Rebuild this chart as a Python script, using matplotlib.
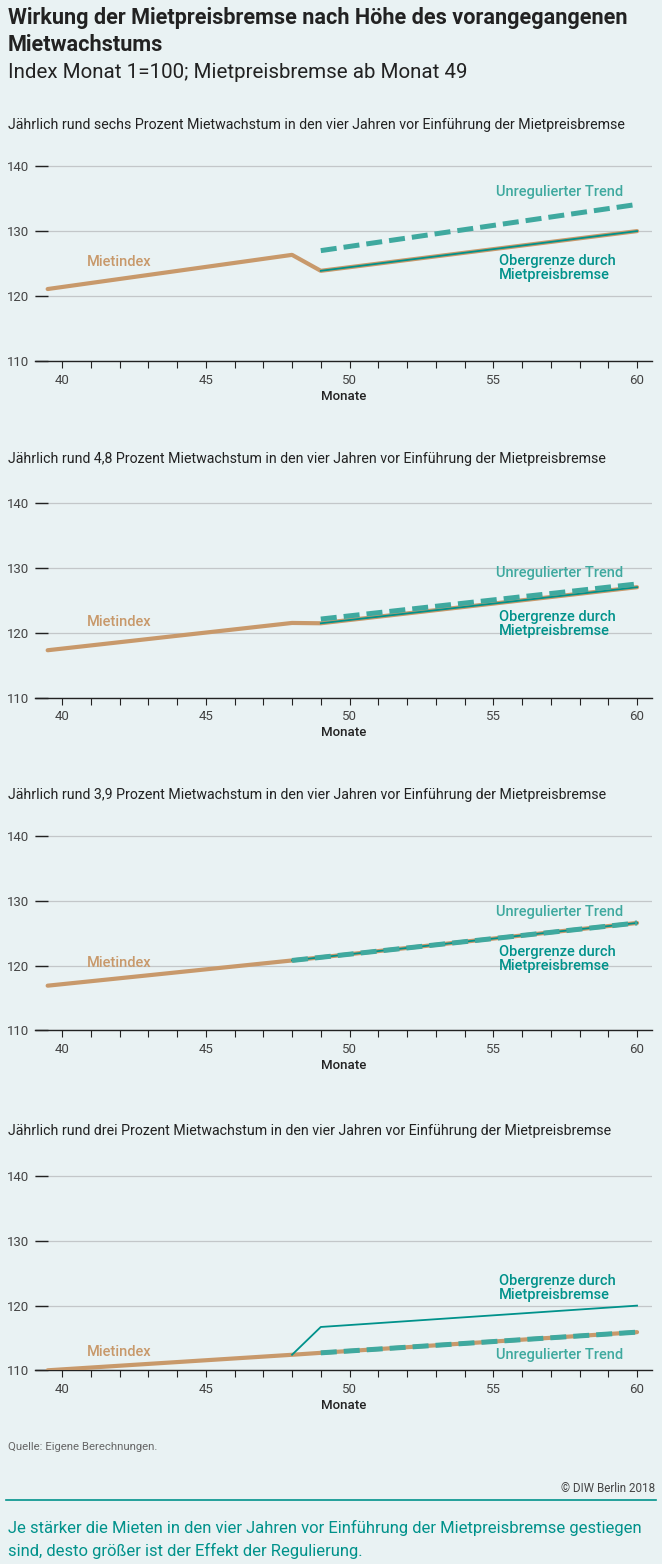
import matplotlib
matplotlib.use('Agg')
import matplotlib.pyplot as plt
from matplotlib import font_manager
from matplotlib.ticker import MultipleLocator

# font: prefer a narrow sans if it is there
names = set(f.name for f in font_manager.fontManager.ttflist)
FONT = 'Liberation Sans Narrow' if 'Liberation Sans Narrow' in names else 'Roboto'
plt.rcParams['font.family'] = [FONT, 'DejaVu Sans']

BG = '#e9f2f3'
BROWN = '#c8996b'
TEAL = '#00928b'
TEAL_L = '#3fa99f'
GRID = '#c3c7c9'
DARK = '#222222'

# data
panel_titles = [
    'Jährlich rund sechs Prozent Mietwachstum in den vier Jahren vor Einführung der Mietpreisbremse',
    'Jährlich rund 4,8 Prozent Mietwachstum in den vier Jahren vor Einführung der Mietpreisbremse',
    'Jährlich rund 3,9 Prozent Mietwachstum in den vier Jahren vor Einführung der Mietpreisbremse',
    'Jährlich rund drei Prozent Mietwachstum in den vier Jahren vor Einführung der Mietpreisbremse',
]
miet_x = [[39.5, 48, 49, 60], [39.5, 48, 49, 60], [39.5, 48, 60], [39.5, 48, 49, 60]]
miet_y = [[121.1, 126.35, 123.9, 130.0], [117.3, 121.5, 121.45, 127.0],
          [116.9, 120.8, 126.6], [110.0, 112.4, 112.7, 115.9]]
ober_x = [[49, 60], [49, 60], [48, 60], [48, 49, 60]]
ober_y = [[123.9, 130.0], [121.45, 127.0], [120.8, 126.6], [112.4, 116.7, 120.0]]
trend_x = [[49, 60], [49, 60], [48, 60], [49, 60]]
trend_y = [[127.0, 134.1], [122.1, 127.5], [120.8, 126.6], [112.7, 115.9]]

# label positions (month, value)
lab_miet = [(40.85, 125.3), (40.85, 121.7), (40.85, 120.4), (40.85, 112.9)]
lab_trend = [(55.1, 136.0), (55.1, 129.2), (55.1, 128.3), (55.1, 112.4)]
lab_ober = [(55.2, 124.3), (55.2, 121.35), (55.2, 121.1), (55.2, 122.8)]

yticks = [110, 120, 130, 140]
xticks = [40, 45, 50, 55, 60]

W, H = 662, 1564
fig = plt.figure(figsize=(W / 100, H / 100), dpi=100, facecolor=BG)

def fy(px):
    return 1 - px / H

# bottom pixel (value 110) and pixel of 140 for each panel
bottoms = [361.3, 697.7, 1030.3, 1370.3]
tops140 = [166.0, 502.7, 836.3, 1176.3]
title_y = [125, 459, 795, 1131]
ytop = 141.5

fig.text(8 / W, fy(18), 'Wirkung der Mietpreisbremse nach Höhe des vorangegangenen',
         fontsize=15.6, fontweight='bold', color=DARK, va='center')
fig.text(8 / W, fy(45), 'Mietwachstums', fontsize=15.6, fontweight='bold', color=DARK, va='center')
fig.text(8 / W, fy(72), 'Index Monat 1=100; Mietpreisbremse ab Monat 49',
         fontsize=14.8, color=DARK, va='center')

for i in range(4):
    b = bottoms[i]
    ppu = (b - tops140[i]) / 30.0
    top = b - ppu * (ytop - 110)
    left, right = 35, 652
    ax = fig.add_axes([left / W, 1 - b / H, (right - left) / W, (b - top) / H])
    ax.set_facecolor(BG)
    ax.set_xlim(39.06, 60.52)
    ax.set_ylim(110, ytop)

    ax.plot(miet_x[i], miet_y[i], color=BROWN, lw=3.0, solid_capstyle='round', zorder=3)
    ax.plot(ober_x[i], ober_y[i], color=TEAL, lw=1.3, zorder=4)
    ax.plot(trend_x[i], trend_y[i], color=TEAL_L, lw=3.6, dashes=(3.2, 1.4), zorder=5)

    ax.text(*lab_miet[i], 'Mietindex', color=BROWN, fontsize=10.5, fontweight='medium',
            va='center', ha='left')
    ax.text(*lab_trend[i], 'Unregulierter Trend', color=TEAL_L, fontsize=10.5,
            fontweight='medium', va='center', ha='left')
    ax.text(*lab_ober[i], 'Obergrenze durch\nMietpreisbremse', color=TEAL, fontsize=10.5,
            fontweight='medium', va='center', ha='left', linespacing=1.0)

    ax.set_yticks(yticks)
    ax.xaxis.set_major_locator(MultipleLocator(5))
    ax.xaxis.set_minor_locator(MultipleLocator(1))
    ax.set_xticks(xticks)
    ax.grid(axis='y', color=GRID, lw=0.9)
    ax.set_axisbelow(True)
    for s in ['top', 'right', 'left']:
        ax.spines[s].set_visible(False)
    ax.spines['bottom'].set_color(DARK)
    ax.spines['bottom'].set_linewidth(1.0)
    ax.tick_params(axis='y', direction='in', length=9.5, width=1.0, color=DARK,
                   labelsize=9.5, labelcolor='#444444', pad=4)
    ax.tick_params(axis='x', which='both', direction='out', length=5, width=0.8, color=DARK,
                   labelsize=9.5, labelcolor='#444444', pad=4)
    ax.set_xlabel('Monate', fontsize=9.5, fontweight='medium', color=DARK, labelpad=2)

    fig.text(8 / W, fy(title_y[i]), panel_titles[i], fontsize=10.2, color=DARK, va='center')

fig.text(8 / W, fy(1447), 'Quelle: Eigene Berechnungen.', fontsize=8.2, color='#666666', va='center')
fig.text(655 / W, fy(1488), '© DIW Berlin 2018', fontsize=8.4, color='#444444', va='center', ha='right')
fig.add_artist(plt.Line2D([6 / W, 656 / W], [fy(1500), fy(1500)], color=TEAL, lw=1.2))
fig.text(8 / W, fy(1528), 'Je stärker die Mieten in den vier Jahren vor Einführung der Mietpreisbremse gestiegen',
         fontsize=12.0, color=TEAL, va='center')
fig.text(8 / W, fy(1551), 'sind, desto größer ist der Effekt der Regulierung.',
         fontsize=12.0, color=TEAL, va='center')

fig.savefig('out.png', dpi=100, facecolor=BG)
